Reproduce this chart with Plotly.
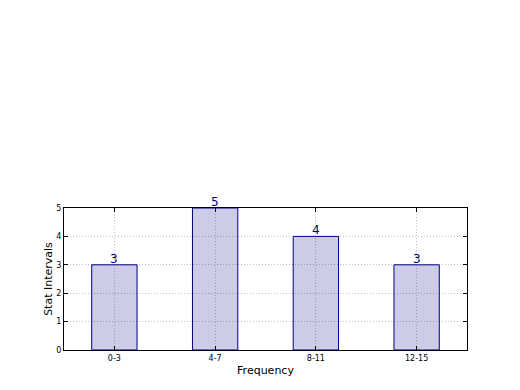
import plotly.graph_objects as go

categories = ["0-3", "4-7", "8-11", "12-15"]
values = [3, 5, 4, 3]
y_ticks = [0, 1, 2, 3, 4, 5]

fig = go.Figure()
fig.add_trace(go.Bar(
    x=categories, y=values, width=0.45,
    marker=dict(color="rgba(0,0,128,0.2)", line=dict(color="#000080", width=1)),
))
for c, v in zip(categories, values):
    fig.add_annotation(x=c, y=v, text=str(v), showarrow=False,
                       yanchor="bottom", yshift=-3,
                       font=dict(color="#000080", size=12, family="DejaVu Sans"))

axis_common = dict(
    showline=True, linecolor="black", linewidth=1, mirror="ticks",
    ticks="inside", ticklen=4, tickcolor="black",
    showgrid=True, gridcolor="#BFBFBF", griddash="1px,2px", gridwidth=1,
    zeroline=False,
    tickfont=dict(size=8, family="DejaVu Sans", color="black"),
)

fig.update_layout(
    width=520, height=390,
    margin=dict(l=56, r=61, t=200, b=48),
    paper_bgcolor="white", plot_bgcolor="white",
    showlegend=False,
    font=dict(family="DejaVu Sans", color="black"),
    xaxis=dict(title=dict(text="Frequency", font=dict(size=11), standoff=4),
               range=[-0.5, 3.5], **axis_common),
    yaxis=dict(title=dict(text="Stat Intervals", font=dict(size=11), standoff=1),
               range=[0, 5], tickvals=y_ticks, **axis_common),
)
fig.write_html("out.html")
